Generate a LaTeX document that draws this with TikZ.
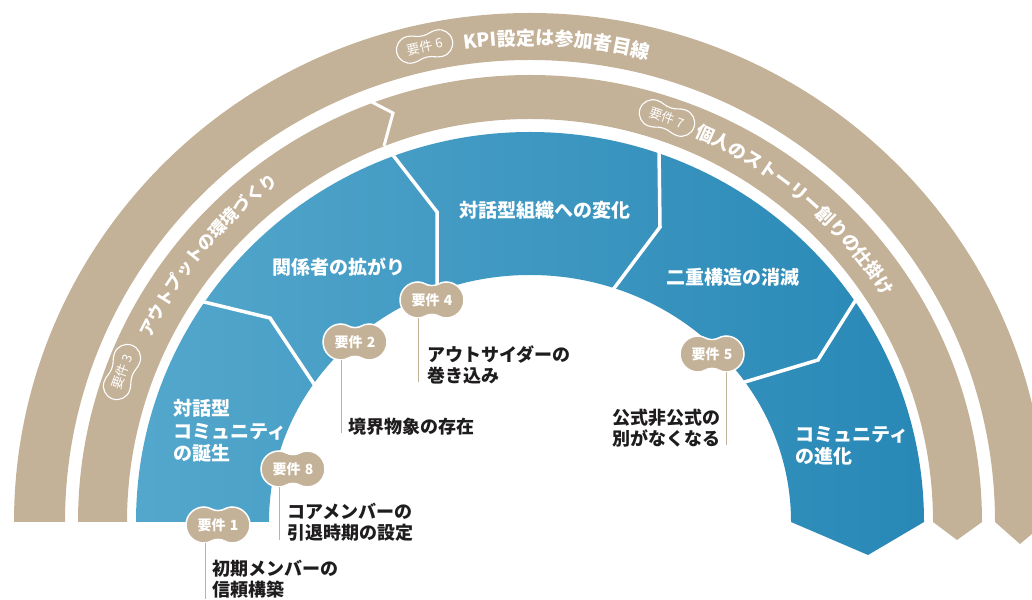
\documentclass[tikz,border=0pt]{standalone}
\usepackage{fontspec}
\newfontfamily\jp{Noto Sans CJK JP}
\usetikzlibrary{decorations.text,calc}
\definecolor{tanc}{RGB}{196,178,152}
\definecolor{blueL}{RGB}{84,167,204}
\definecolor{blueR}{RGB}{40,136,182}
\definecolor{ink}{RGB}{30,28,28}
\newcommand{\solidbadge}[3]{%
  \begin{scope}[shift={(#2)}]
    \fill[tanc, draw=white, line width=1.5pt] (0,14.4) .. controls (6.3,14.4) and (7.7,18) .. (14,18) arc[start angle=90,end angle=-90,radius=18] .. controls (7.7,-18) and (6.3,-14.4) .. (0,-14.4) .. controls (-6.3,-14.4) and (-7.7,-18) .. (-14,-18) arc[start angle=270,end angle=90,radius=18] .. controls (-7.7,18) and (-6.3,14.4) .. (0,14.4) -- cycle;
    \node[badgetext] (#1) at (0,0) {要件\hspace{0.3em}#3};
  \end{scope}}
\newcommand{\ringbadge}[4]{%
  \begin{scope}[shift={(#2)}, rotate=#3]
    \draw[white, line width=1.1pt] (0,10.8) .. controls (6.75,10.8) and (8.25,13.5) .. (15,13.5) arc[start angle=90,end angle=-90,radius=13.5] .. controls (8.25,-13.5) and (6.75,-10.8) .. (0,-10.8) .. controls (-6.75,-10.8) and (-8.25,-13.5) .. (-15,-13.5) arc[start angle=270,end angle=90,radius=13.5] .. controls (-8.25,13.5) and (-6.75,10.8) .. (0,10.8) -- cycle;
    \node[ringtext, rotate=#3] (#1) at (0,0) {要件\hspace{0.25em}#4};
  \end{scope}}
\begin{document}
\begin{tikzpicture}[x=1pt,y=1pt,
  divider/.style={white, line width=3.5pt},
  leader/.style={tanc, line width=0.9pt},
  bluelabel/.style={white, font=\jp\bfseries\fontsize{19}{22.5}\selectfont, inner sep=0pt},
  caption/.style={ink, font=\jp\bfseries\fontsize{18}{21}\selectfont, inner sep=0pt},
  badgetext/.style={white, font=\jp\bfseries\fontsize{14}{14}\selectfont, inner sep=0pt},
  ringtext/.style={white, font=\jp\fontsize{13}{13}\selectfont, inner sep=0pt},
]
\useasboundingbox (0,0) rectangle (1032,599);
\clip (0,0) rectangle (1032,599);
\coordinate (C) at (530,77);

% outer band
\fill[tanc] (C) ++(180:516) arc[start angle=180,end angle=0,x radius=516,y radius=509] -- (1020,55) -- ($(C)+(465,0)$) arc[start angle=0,end angle=180,x radius=465,y radius=462] -- cycle;
% second band
\fill[tanc] (C) ++(180:452) arc[start angle=180,end angle=0,x radius=452,y radius=447] -- (957,59) -- ($(C)+(403,0)$) arc[start angle=0,end angle=180,radius=403] -- cycle;
\draw[divider, line width=3pt] (366,500) -- (393,486) -- (384,453);

% blue ring
\shade[left color=blueL, right color=blueR] (C) ++(180:394) arc[start angle=180,end angle=0,x radius=394,y radius=390] -- (868,44) -- ($(C)+(261,0)$) arc[start angle=0,end angle=180,x radius=261,y radius=247] -- cycle;
\draw[divider] (200,298) -- (270,281) -- (316,212);
\draw[divider] (389,449) -- (437,387) -- (437,300);
\draw[divider] (659,449) -- (660,372) -- (609,304);
\draw[divider] (857,301) -- (818,239) -- (738,215);

% blue labels
\node[bluelabel, anchor=west, align=left] (s1) at (173,168) {対話型\\コミュニティ\\の誕生};
\node[bluelabel] (s2) at (339,332) {関係者の拡がり};
\node[bluelabel] (s3) at (545,389) {対話型組織への変化};
\node[bluelabel] (s4) at (733,322) {二重構造の消滅};
\node[bluelabel, anchor=west, align=left] (s5) at (795,153) {コミュニティ\\の進化};

% band texts
\path[decorate, decoration={text along path, text align=left, text color=white,
  text={|\jp\bfseries\fontsize{19}{19}\selectfont|KPI設定は参加者目線}}]
  (C) ++(97.9:477) arc[start angle=97.9, end angle=55, radius=477];
\path[decorate, decoration={text along path, text align=left, text color=white,
  text={|\jp\bfseries\fontsize{18}{18}\selectfont|個人のストーリー創りの仕掛け}}]
  (C) ++(66.9:419) arc[start angle=66.9, end angle=15, radius=419];
\path[decorate, decoration={text along path, text align=left, text color=white,
  text={|\jp\bfseries\fontsize{17}{17}\selectfont|アウトプットの環境づくり}}]
  (C) ++(154.2:422) arc[start angle=154.2, end angle=110, radius=422];

% ring badges
\ringbadge{b6}{424.6,552.5}{12.5}{6}
\ringbadge{b7}{667,481}{-18.7}{7}
\ringbadge{b3}{122,227}{70}{3}

% solid badges with leaders and captions
\solidbadge{b1}{218,74}{1}
\solidbadge{b8}{293,130}{8}
\solidbadge{b2}{355,257}{2}
\solidbadge{b4}{432,299}{4}
\solidbadge{b5}{712,245}{5}

\coordinate (l1a) at (205,56);  \coordinate (l1b) at (205,0);
\coordinate (l8a) at (279,112); \coordinate (l8b) at (279,59);
\coordinate (l2a) at (341,239); \coordinate (l2b) at (341,166);
\coordinate (l4a) at (418,281); \coordinate (l4b) at (418,217);
\coordinate (l5a) at (726,227); \coordinate (l5b) at (726,154);
\draw[leader] (l1a) -- (l1b);
\draw[leader] (l8a) -- (l8b);
\draw[leader] (l2a) -- (l2b);
\draw[leader] (l4a) -- (l4b);
\draw[leader] (l5a) -- (l5b);

\node[caption, anchor=west, align=left] (c1) at (212,20) {初期メンバーの\\信頼構築};
\node[caption, anchor=west, align=left] (c8) at (287,77) {コアメンバーの\\引退時期の設定};
\node[caption, anchor=west] (c2) at (348,172) {境界物象の存在};
\node[caption, anchor=west, align=left] (c4) at (427,234) {アウトサイダーの\\巻き込み};
\node[caption, anchor=east, align=right] (c5) at (721,171) {公式非公式の\\別がなくなる};
\end{tikzpicture}
\end{document}
